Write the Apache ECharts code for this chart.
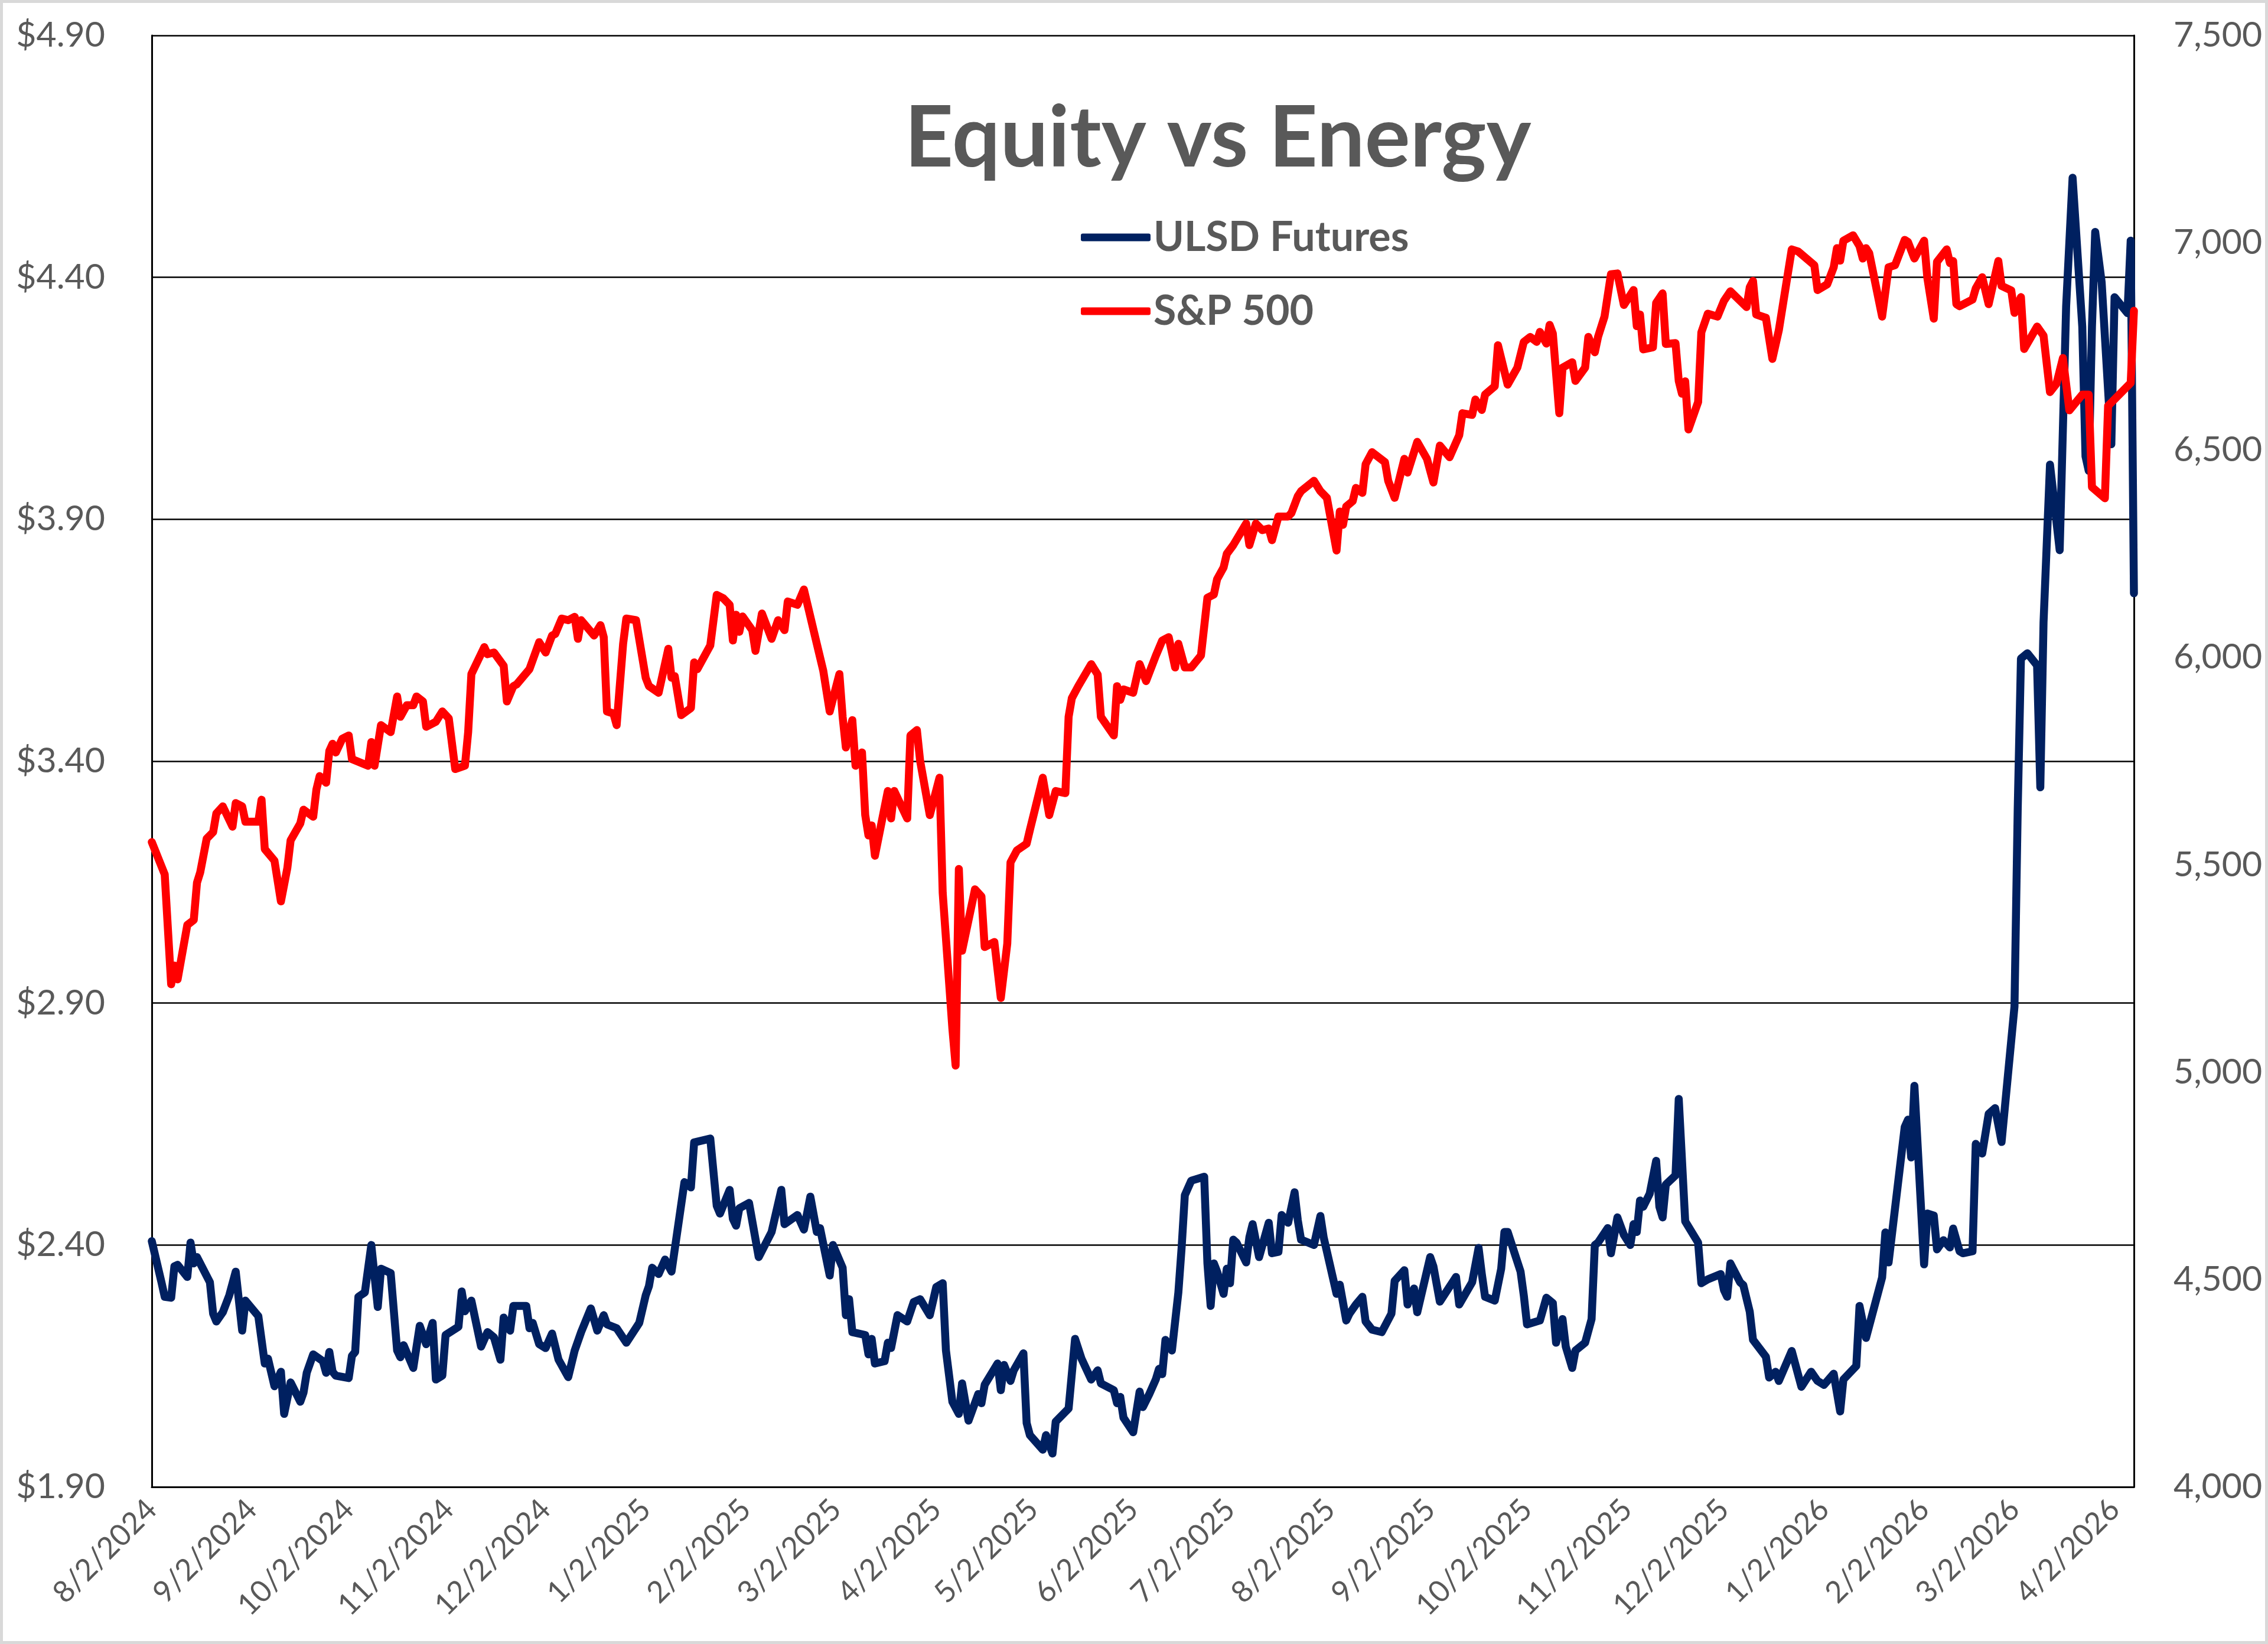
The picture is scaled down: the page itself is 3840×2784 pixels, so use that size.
<!DOCTYPE html>
<html><head><meta charset="utf-8">
<script src="https://cdn.jsdelivr.net/npm/echarts@6/dist/echarts.min.js"></script>
<style>html,body{margin:0;padding:0;background:#fff}#c{width:3840px;height:2784px}</style>
</head><body><div id="c"></div>
<script>
// ---- data ----
const chartTitle = 'Equity vs Energy';
const seriesNames = ['ULSD Futures', 'S&P 500'];
// x values: days since 8/2/2024
const startYMD = [2024, 8, 2];
const lastDay = 614; // 4/8/2026
// month labels at the 2nd of each month, 8/2024 .. 4/2026
const labelMonths = 21;
const leftAxis = { min: 1.9, max: 4.9, interval: 0.5 };
const rightAxis = { min: 4000, max: 7500, interval: 500 };

const ulsdDay = [0,3,4,6,7,8,11,12,13,14,18,19,20,22,24,26,28,29,33,35,36,38,40,41,43,46,47,48,50,53,54,55,56,57,61,62,63,64,66,68,70,71,74,76,77,78,81,83,85,87,88,90,91,95,96,97,99,102,104,106,108,109,111,112,116,117,118,120,122,124,126,129,131,133,136,138,140,141,144,147,151,153,154,155,157,159,161,165,167,168,173,175,176,179,180,181,182,185,188,192,195,196,200,202,204,206,207,210,211,214,215,216,217,221,222,223,224,227,228,229,231,234,236,238,241,243,245,246,248,250,251,253,256,257,258,262,263,264,266,267,270,271,272,276,277,279,280,284,286,288,291,293,294,298,299,300,301,304,306,307,309,311,312,313,314,316,318,319,320,322,326,327,328,329,330,332,333,334,335,336,339,340,341,343,346,347,349,350,352,354,355,356,360,362,363,367,368,370,371,373,375,376,378,381,384,385,388,389,391,392,396,397,399,404,405,409,411,412,413,416,418,419,420,424,425,426,430,432,434,435,437,438,440,441,444,446,447,448,451,452,454,456,458,459,460,461,462,464,466,467,468,469,472,473,475,479,480,482,486,487,488,489,492,493,495,496,500,501,503,504,508,511,514,516,518,521,523,524,528,529,531,536,537,538,543,544,545,546,549,550,552,553,555,557,558,560,561,564,565,567,569,571,573,575,577,578,579,581,584,585,586,588,591,593,595,598,599,600,601,602,604,607,608,612,613,614];
const ulsdVal = [2.408,2.323,2.293,2.291,2.356,2.359,2.334,2.405,2.362,2.375,2.323,2.258,2.242,2.261,2.296,2.345,2.223,2.285,2.253,2.155,2.165,2.108,2.138,2.051,2.116,2.076,2.095,2.136,2.174,2.16,2.136,2.179,2.138,2.13,2.125,2.171,2.179,2.293,2.302,2.4,2.272,2.351,2.342,2.182,2.168,2.193,2.146,2.233,2.195,2.239,2.122,2.13,2.214,2.231,2.304,2.263,2.285,2.19,2.22,2.209,2.163,2.25,2.223,2.274,2.274,2.228,2.239,2.195,2.187,2.217,2.163,2.127,2.182,2.22,2.269,2.223,2.255,2.236,2.228,2.198,2.239,2.296,2.315,2.353,2.34,2.37,2.345,2.53,2.519,2.612,2.62,2.481,2.465,2.514,2.454,2.44,2.476,2.487,2.375,2.427,2.514,2.443,2.462,2.432,2.5,2.427,2.435,2.337,2.4,2.353,2.255,2.288,2.22,2.214,2.174,2.206,2.155,2.16,2.198,2.187,2.255,2.242,2.282,2.288,2.255,2.313,2.321,2.182,2.076,2.051,2.114,2.037,2.092,2.073,2.111,2.155,2.1,2.152,2.119,2.141,2.176,2.032,2.007,1.977,2.007,1.969,2.035,2.062,2.206,2.165,2.122,2.141,2.114,2.1,2.073,2.086,2.043,2.013,2.097,2.065,2.092,2.122,2.144,2.133,2.204,2.182,2.302,2.394,2.503,2.533,2.541,2.362,2.274,2.362,2.345,2.299,2.351,2.321,2.411,2.405,2.364,2.416,2.443,2.375,2.446,2.383,2.386,2.462,2.446,2.509,2.451,2.411,2.4,2.46,2.416,2.299,2.318,2.244,2.258,2.277,2.293,2.242,2.225,2.22,2.258,2.326,2.348,2.277,2.31,2.261,2.375,2.356,2.283,2.334,2.277,2.323,2.394,2.34,2.293,2.285,2.351,2.427,2.427,2.345,2.296,2.236,2.244,2.291,2.28,2.198,2.247,2.19,2.146,2.182,2.198,2.247,2.4,2.405,2.435,2.383,2.457,2.421,2.4,2.443,2.427,2.492,2.479,2.506,2.574,2.479,2.457,2.525,2.544,2.702,2.449,2.405,2.321,2.329,2.34,2.307,2.293,2.362,2.323,2.317,2.262,2.204,2.169,2.126,2.138,2.119,2.181,2.107,2.138,2.119,2.111,2.134,2.056,2.122,2.15,2.274,2.208,2.333,2.426,2.364,2.644,2.659,2.581,2.729,2.36,2.465,2.461,2.391,2.41,2.395,2.434,2.387,2.383,2.387,2.609,2.589,2.671,2.683,2.613,2.753,2.893,3.3,3.612,3.623,3.598,3.346,3.687,4.013,3.836,4.34,4.606,4.298,4.03,4.0,4.298,4.494,4.39,4.055,4.359,4.326,4.476,3.747];

const spxDay = [0,4,6,7,8,11,13,14,15,17,19,20,22,25,26,28,29,33,34,35,38,40,42,43,46,47,50,51,52,54,55,56,57,59,61,62,67,68,69,71,74,76,77,79,81,82,84,85,88,90,92,94,97,98,99,103,104,106,109,110,112,113,117,120,122,124,125,127,129,131,132,133,137,139,140,141,143,144,146,147,150,153,154,157,160,161,162,164,167,168,169,173,175,177,179,180,181,182,183,186,187,189,192,194,196,197,200,202,206,208,210,213,214,215,217,218,220,221,222,223,224,228,229,230,234,235,237,238,241,244,245,248,249,250,251,255,257,258,261,263,265,266,268,271,272,276,278,280,283,284,285,287,291,293,294,298,299,300,301,304,306,308,311,313,315,317,318,320,322,325,327,329,330,332,333,335,339,340,342,344,346,347,349,352,353,355,356,360,362,364,367,368,369,370,372,373,375,376,378,382,383,385,388,389,392,395,397,399,402,405,406,409,410,412,413,416,417,420,423,425,427,429,430,432,433,434,436,437,440,441,444,445,447,448,450,452,454,456,459,460,461,462,465,466,468,469,472,473,474,475,476,479,480,482,485,487,489,494,495,496,497,500,502,504,508,510,515,516,519,521,522,523,524,527,529,530,531,532,536,538,540,543,544,546,549,550,552,553,556,557,558,559,560,564,565,567,569,572,573,576,577,579,580,584,586,588,590,592,594,598,600,601,605,606,613,614];
const spxVal = [5555,5477,5212,5257,5224,5355,5367,5457,5482,5563,5579,5624,5641,5592,5649,5641,5604,5604,5657,5538,5510,5412,5493,5559,5600,5633,5616,5682,5714,5698,5775,5792,5771,5804,5812,5755,5739,5796,5739,5837,5820,5906,5857,5885,5885,5906,5894,5833,5845,5870,5853,5731,5739,5820,5960,6025,6008,6012,5980,5894,5931,5935,5972,6037,6012,6053,6057,6094,6090,6098,6045,6090,6053,6078,6049,5870,5865,5837,6033,6094,6090,5951,5931,5915,6021,5951,5955,5861,5878,5988,5972,6029,6151,6143,6127,6041,6103,6062,6099,6066,6016,6106,6045,6090,6066,6135,6127,6164,6033,5968,5870,5960,5857,5783,5849,5739,5771,5620,5571,5595,5522,5678,5612,5678,5612,5812,5825,5751,5620,5710,5432,5105,5016,5490,5293,5441,5424,5302,5314,5179,5310,5506,5535,5551,5584,5710,5620,5678,5673,5857,5902,5931,5984,5959,5857,5812,5931,5898,5923,5915,5984,5943,6004,6041,6049,5976,6033,5976,5976,6005,6144,6152,6189,6217,6250,6271,6323,6271,6323,6307,6311,6283,6340,6340,6348,6389,6401,6426,6401,6385,6258,6352,6320,6364,6377,6409,6397,6466,6495,6471,6426,6385,6479,6446,6520,6479,6422,6511,6483,6536,6589,6585,6622,6597,6634,6654,6753,6658,6699,6761,6773,6761,6785,6757,6802,6781,6589,6699,6712,6667,6699,6773,6736,6773,6822,6924,6926,6850,6886,6799,6827,6743,6748,6855,6878,6756,6758,6667,6636,6666,6550,6616,6784,6829,6822,6860,6883,6845,6893,6908,6827,6819,6720,6789,6984,6979,6946,6886,6900,6941,6987,6957,7005,7018,6992,6962,6987,6975,6822,6941,6946,7007,7002,6962,7005,6916,6817,6954,6984,6951,6956,6852,6847,6863,6890,6917,6852,6956,6896,6885,6831,6869,6744,6798,6776,6640,6660,6722,6596,6634,6634,6411,6384,6607,6662,6836];

// ---- helpers ----
const DAY_MS = 86400000;
const startUTC = Date.UTC(startYMD[0], startYMD[1] - 1, startYMD[2]);
function dayToDate(d) { return new Date(startUTC + Math.round(d) * DAY_MS); }
function pairs(days, vals) { return days.map((d, i) => [d, vals[i]]); }
const labelDays = [];
for (let m = 0; m < labelMonths; m++) {
  labelDays.push(Math.round((Date.UTC(startYMD[0], startYMD[1] - 1 + m, 2) - startUTC) / DAY_MS));
}

const FONT = 'Lato';
const GREY = '#595959';

const chart = echarts.init(document.getElementById('c'), null, { renderer: 'canvas' });
chart.setOption({
  backgroundColor: '#ffffff',
  animation: false,
  title: {
    text: chartTitle,
    left: 2057, top: 159, textAlign: 'center',
    textStyle: { fontFamily: FONT, fontWeight: 'bold', fontSize: 144, color: GREY, lineHeight: 144 }
  },
  legend: {
    data: seriesNames,
    orient: 'vertical',
    left: 1825, top: 362,
    itemWidth: 118, itemHeight: 13, itemGap: 55,
    icon: 'roundRect',
    textStyle: { fontFamily: FONT, fontWeight: 'bold', fontSize: 70, color: GREY, lineHeight: 70 }
  },
  graphic: [{
    type: 'rect', silent: true, z: 100,
    shape: { x: 0, y: 0, width: 3840, height: 2784 },
    style: { fill: 'none', stroke: '#D9D9D9', lineWidth: 10 }
  }],
  grid: { left: 257, right: 227, top: 60, bottom: 266, containLabel: false },
  xAxis: {
    type: 'value',
    min: 0, max: lastDay,
    axisLine: { show: true, onZero: false, lineStyle: { color: '#000', width: 3 } },
    axisTick: { show: false },
    splitLine: { show: false },
    axisLabel: {
      customValues: labelDays,
      rotate: 45, margin: 30,
      fontFamily: FONT, fontSize: 51, color: GREY,
      formatter: function (v) {
        const d = dayToDate(v);
        return (d.getUTCMonth() + 1) + '/' + d.getUTCDate() + '/' + d.getUTCFullYear();
      }
    }
  },
  yAxis: [{
    type: 'value', position: 'left',
    min: leftAxis.min, max: leftAxis.max, interval: leftAxis.interval,
    axisLine: { show: true, lineStyle: { color: '#000', width: 3 } },
    axisTick: { show: false },
    splitLine: { show: true, lineStyle: { color: '#000', width: 2.5 } },
    axisLabel: {
      margin: 79, fontFamily: FONT, fontSize: 59, color: GREY,
      formatter: function (v) { return '$' + v.toFixed(2); }
    }
  }, {
    type: 'value', position: 'right',
    min: rightAxis.min, max: rightAxis.max, interval: rightAxis.interval,
    axisLine: { show: true, lineStyle: { color: '#000', width: 3 } },
    axisTick: { show: false },
    splitLine: { show: false },
    axisLabel: {
      margin: 67, fontFamily: FONT, fontSize: 59, color: GREY,
      formatter: function (v) { return v.toLocaleString('en-US'); }
    }
  }],
  series: [{
    name: seriesNames[0], type: 'line', yAxisIndex: 0,
    data: pairs(ulsdDay, ulsdVal),
    showSymbol: false, symbol: 'none',
    color: '#002060',
    lineStyle: { color: '#002060', width: 13.5, cap: 'round', join: 'round' }
  }, {
    name: seriesNames[1], type: 'line', yAxisIndex: 1,
    data: pairs(spxDay, spxVal),
    showSymbol: false, symbol: 'none',
    color: '#FF0000',
    lineStyle: { color: '#FF0000', width: 13.5, cap: 'round', join: 'round' }
  }]
});
</script></body></html>
